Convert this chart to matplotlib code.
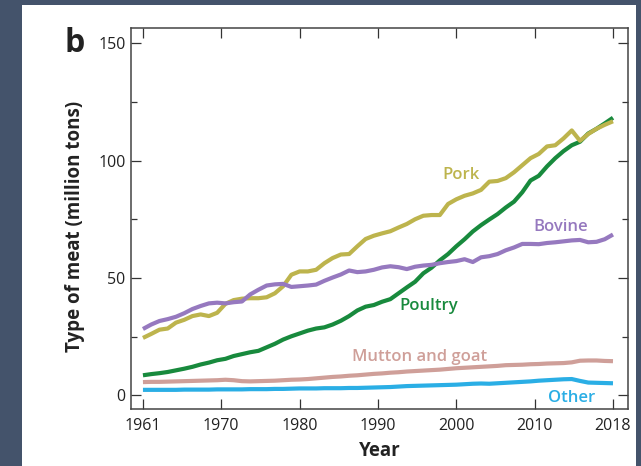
import matplotlib
matplotlib.use('Agg')
import matplotlib.pyplot as plt
from matplotlib.patches import Rectangle
import numpy as np

plt.rcParams['font.family'] = ['Open Sans', 'DejaVu Sans']

years = np.arange(1961, 2019)

pork = [24.5, 26.2, 28.0, 28.5, 31.0, 32.2, 33.8, 34.5, 33.8, 35.2,
        39.0, 40.6, 41.2, 41.4, 41.4, 41.8, 43.5, 46.5, 51.4, 52.8,
        52.8, 53.5, 56.3, 58.5, 60.0, 60.2, 63.5, 66.6, 68.0, 69.0,
        69.9, 71.5, 73.0, 75.0, 76.5, 76.8, 76.8, 81.5, 83.5, 85.0,
        86.0, 87.5, 91.0, 91.3, 92.5, 95.0, 98.0, 101.0, 102.8, 106.0,
        106.5, 109.4, 112.8, 108.4, 111.3, 113.5, 115.2, 116.7]

poultry = [8.6, 9.1, 9.5, 10.0, 10.7, 11.4, 12.2, 13.2, 14.0, 15.0,
           15.6, 16.8, 17.6, 18.4, 19.0, 20.5, 22.0, 23.8, 25.2, 26.4,
           27.6, 28.5, 29.0, 30.2, 31.8, 33.8, 36.2, 37.8, 38.5, 39.9,
           41.0, 43.5, 46.0, 48.4, 52.0, 54.4, 57.5, 60.2, 63.5, 66.5,
           69.8, 72.5, 74.9, 77.2, 80.0, 82.5, 86.5, 91.5, 93.5, 97.5,
           101.0, 104.0, 106.5, 108.0, 111.5, 113.5, 115.8, 118.2]

bovine = [28.3, 30.2, 31.7, 32.5, 33.5, 35.0, 36.8, 38.1, 39.2, 39.5,
          39.2, 39.7, 40.0, 43.0, 45.0, 46.8, 47.3, 47.5, 46.2, 46.5,
          46.8, 47.2, 48.8, 50.2, 51.5, 53.2, 52.5, 52.8, 53.5, 54.5,
          55.0, 54.6, 53.8, 54.8, 55.3, 55.6, 56.3, 56.8, 57.2, 58.0,
          56.8, 58.8, 59.3, 60.2, 61.8, 63.0, 64.5, 64.5, 64.4, 64.9,
          65.2, 65.6, 66.0, 66.2, 65.2, 65.4, 66.5, 68.5]

mutton = [5.7, 5.8, 5.8, 5.9, 6.0, 6.1, 6.2, 6.3, 6.4, 6.5,
          6.7, 6.5, 6.1, 6.0, 6.1, 6.2, 6.3, 6.5, 6.7, 6.8,
          7.0, 7.3, 7.6, 7.9, 8.1, 8.4, 8.6, 8.9, 9.2, 9.4,
          9.7, 9.9, 10.2, 10.4, 10.6, 10.8, 11.0, 11.3, 11.6, 11.8,
          12.0, 12.2, 12.4, 12.6, 12.9, 13.0, 13.1, 13.3, 13.4, 13.6,
          13.7, 13.8, 14.1, 14.8, 14.9, 14.9, 14.7, 14.6]

other = [2.4, 2.4, 2.4, 2.4, 2.4, 2.5, 2.5, 2.5, 2.5, 2.6,
         2.6, 2.6, 2.6, 2.7, 2.7, 2.7, 2.8, 2.8, 2.9, 3.0,
         3.0, 3.0, 3.1, 3.1, 3.1, 3.2, 3.2, 3.3, 3.4, 3.5,
         3.6, 3.8, 4.0, 4.1, 4.2, 4.3, 4.4, 4.5, 4.6, 4.8,
         5.0, 5.1, 5.0, 5.2, 5.4, 5.6, 5.8, 6.0, 6.3, 6.5,
         6.7, 6.9, 7.0, 6.2, 5.5, 5.4, 5.3, 5.2]

tick_labels = ['1961', '1970', '1980', '1990', '2000', '2010', '2018']

c_pork = '#bdb44d'
c_poultry = '#188a3d'
c_bovine = '#9679bf'
c_mutton = '#cf9f99'
c_other = '#2aaee5'

fig = plt.figure(figsize=(6.41, 4.66), dpi=100)
fig.patch.set_facecolor('#44536b')
# white panel on top of the dark frame
fig.patches.append(Rectangle((22 / 641, 0), (636 - 22) / 641, 461 / 466,
                             transform=fig.transFigure, facecolor='white',
                             edgecolor='none', zorder=-5))

ax = fig.add_axes([131 / 641, 1 - 409 / 466, (628 - 131) / 641, (409 - 28) / 466])
ax.set_zorder(2)

lw = 3.0
ax.plot(years, other, color=c_other, lw=lw, solid_capstyle='butt')
ax.plot(years, mutton, color=c_mutton, lw=lw, solid_capstyle='butt')
ax.plot(years, poultry, color=c_poultry, lw=lw, solid_capstyle='butt')
ax.plot(years, pork, color=c_pork, lw=lw, solid_capstyle='butt')
ax.plot(years, bovine, color=c_bovine, lw=lw, solid_capstyle='butt')

lab = dict(fontsize=12, fontweight='semibold', ha='center', va='center')
ax.text(1999.6, 94, 'Pork', color=c_pork, **lab)
ax.text(2011.7, 71.6, 'Bovine', color=c_bovine, **lab)
ax.text(1995.6, 38.2, 'Poultry', color=c_poultry, **lab)
ax.text(1994.6, 16.3, 'Mutton and goat', color=c_mutton, **lab)
ax.text(2013.0, -0.9, 'Other', color=c_other, **lab)

ax.set_xlim(1959.55, 2019.82)
ax.set_ylim(-5.75, 156.4)

# ticks are evenly spaced across the data span, as in the original
ax.set_xticks(np.linspace(years[0], years[-1], len(tick_labels)))
ax.set_xticklabels(tick_labels)
ax.set_yticks([0, 50, 100, 150])
ax.set_yticks([25, 75, 125], minor=True)

ax.tick_params(which='both', direction='in', top=True, right=True,
               color='#333333', width=0.9, labelsize=11.5, labelcolor='#222222')
ax.tick_params(which='major', length=7.5)
ax.tick_params(which='minor', length=4)
ax.tick_params(axis='x', pad=6.5)
ax.tick_params(axis='y', pad=4)
for s in ax.spines.values():
    s.set_color('#444444')
    s.set_linewidth(1.1)

ax.set_xlabel('Year', fontsize=13.5, fontweight='bold', labelpad=5, color='#222222')
ax.set_ylabel('Type of meat (million tons)', fontsize=13.5, fontweight='bold',
              color='#222222')
ax.yaxis.set_label_coords(-46 / 497, 0.48)

fig.text(75 / 641, 1 - 44 / 466, 'b', fontsize=23, fontweight='bold',
         ha='center', va='center', color='#222222')

fig.savefig('out.png', dpi=100, facecolor=fig.get_facecolor())
